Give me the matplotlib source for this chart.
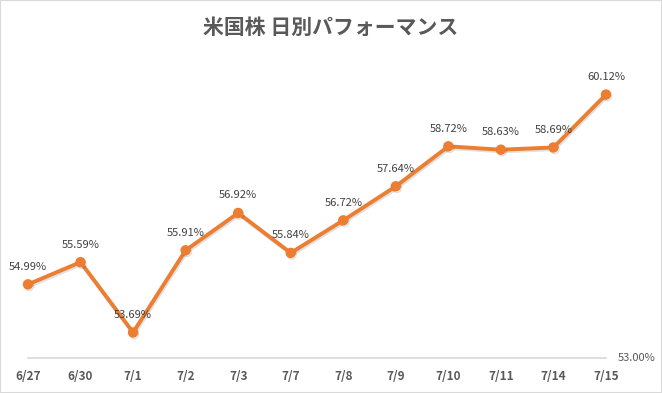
import matplotlib.pyplot as plt
import matplotlib.patheffects as pe
from matplotlib.patches import Rectangle

plt.rcParams['font.family'] = ['Noto Sans CJK JP', 'DejaVu Sans']

# data
dates = ['6/27', '6/30', '7/1', '7/2', '7/3', '7/7', '7/8', '7/9', '7/10', '7/11', '7/14', '7/15']
perf = [54.99, 55.59, 53.69, 55.91, 56.92, 55.84, 56.72, 57.64, 58.72, 58.63, 58.69, 60.12]
y_min = 53.00

orange = '#ED7D31'
gray = '#595959'

fig = plt.figure(figsize=(6.62, 3.93), dpi=100)
fig.patches.append(Rectangle((0, 0), 1, 1, transform=fig.transFigure,
                             fill=False, edgecolor='#D9D9D9', linewidth=1.5))

ax = fig.add_axes([28 / 662, 1 - 358 / 393, (606 - 28) / 662, (358 - 62) / 393])
x = list(range(len(dates)))
ax.plot(x, perf, color=orange, linewidth=2.8, marker='o', markersize=6.5,
        solid_joinstyle='round', clip_on=False,
        path_effects=[pe.SimpleLineShadow(offset=(0.8, -1.2), alpha=0.12), pe.Normal()])

for i, v in enumerate(perf):
    ax.annotate(f'{v:.2f}%', (i, v), xytext=(0, 9), textcoords='offset points',
                ha='center', va='bottom', fontsize=8, color='#404040')

ax.set_xlim(0, len(dates) - 1)
ax.set_ylim(y_min, 61)
ax.set_xticks(x)
ax.set_xticklabels(dates, fontsize=8.5, fontweight='bold', color=gray)
ax.tick_params(axis='x', length=0, pad=9)
ax.set_yticks([])
for s in ['top', 'left', 'right']:
    ax.spines[s].set_visible(False)
ax.spines['bottom'].set_color('#D9D9D9')
ax.spines['bottom'].set_linewidth(1.2)

ax.text(1.02, 0, f'{y_min:.2f}%', transform=ax.transAxes, ha='left', va='center',
        fontsize=8, color=gray)

fig.text(0.5, 1 - 27 / 393, '米国株 日別パフォーマンス', ha='center', va='center',
         fontsize=15, fontweight='bold', color=gray)

fig.savefig('out.png', dpi=100)
